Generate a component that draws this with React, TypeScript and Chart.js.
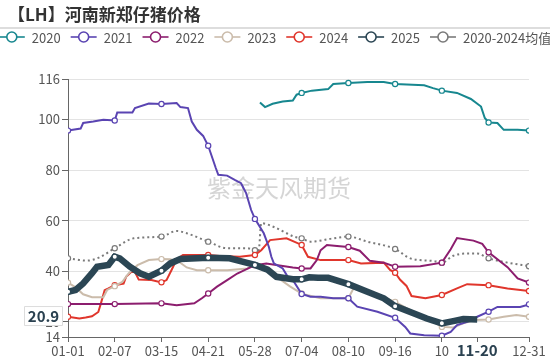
import { useEffect, useRef } from 'react';
import { Chart, registerables } from 'chart.js';

Chart.register(...registerables);

const FONT = '"Noto Sans CJK SC", "Noto Sans", sans-serif';
const TITLE = '【LH】河南新郑仔猪价格';
const WATERMARK = '紫金天风期货';
const latestLabel = '20.9';

const seriesNames = ['2020', '2021', '2022', '2023', '2024', '2025', '2020-2024均值'];
const seriesColors = ['#17878f', '#5a44b2', '#8c1d6e', '#cbbcab', '#e0362c', '#2b4654', '#7a7a7a'];

const xTickDays = [0, 37, 74, 111, 148, 185, 222, 259, 296, 324, 365];
const xTickLabels = ['01-01', '02-07', '03-15', '04-21', '05-28', '07-04', '08-10', '09-16', '10', '11-20', '12-31'];
const yTicks = [14, 20, 40, 60, 80, 100, 116];

// [day of year, price]
const s2020 = [[152,106.7],[156,104.9],[162,106.2],[170,107.1],[178,107.5],[181,109.8],[185,110.5],[193,111.4],[206,112.0],[210,114.0],[222,114.4],[237,114.8],[250,114.8],[259,114.0],[282,113.5],[289,112.4],[296,111.4],[308,110.5],[319,108.1],[327,105.1],[330,100.6],[333,98.8],[340,98.6],[345,95.9],[356,95.9],[365,95.6]];
const s2021 = [[0,95.6],[10,96.4],[12,98.6],[20,99.2],[28,99.9],[37,99.6],[39,102.8],[51,102.8],[53,104.5],[64,106.3],[74,106.1],[86,106.5],[89,104.9],[95,104.5],[98,99.2],[102,95.9],[107,93.5],[111,89.6],[117,80.8],[119,78.1],[126,77.8],[132,76.1],[137,74.8],[141,70.9],[145,64.2],[148,60.7],[155,55.0],[159,49.7],[161,45.7],[163,43.1],[170,41.1],[174,37.8],[179,35.8],[183,32.6],[185,31.0],[192,29.9],[200,29.9],[210,29.3],[222,29.3],[229,26.0],[245,24.0],[259,21.6],[267,18.0],[271,15.4],[282,14.7],[296,14.5],[303,16.0],[308,18.7],[316,20.0],[324,22.0],[333,24.0],[340,25.9],[358,25.9],[365,26.9]];
const s2022 = [[0,27.0],[37,27.0],[74,27.3],[86,26.6],[100,27.3],[106,29.3],[111,31.2],[118,33.9],[126,36.5],[134,39.1],[148,42.4],[157,43.1],[178,41.5],[185,41.1],[192,41.1],[197,44.4],[200,48.3],[205,50.4],[213,50.0],[222,49.6],[231,48.1],[239,44.1],[250,43.4],[259,41.8],[279,42.0],[296,43.4],[303,48.7],[308,53.1],[321,52.1],[328,50.8],[333,47.5],[348,41.6],[356,37.2],[365,35.5]];
const s2023 = [[0,35.5],[6,33.6],[12,30.9],[19,29.7],[28,29.7],[31,32.6],[37,34.1],[43,35.8],[48,39.1],[55,42.4],[64,44.4],[74,44.8],[81,44.7],[88,43.7],[94,41.5],[102,40.4],[111,40.4],[126,40.4],[142,41.1],[148,42.4],[157,41.1],[165,37.8],[176,33.9],[185,31.2],[189,30.6],[200,29.3],[210,29.3],[222,29.3],[226,33.2],[242,31.2],[259,27.9],[271,24.6],[273,24.0],[287,20.7],[296,18.0],[305,17.8],[313,19.4],[322,20.7],[333,20.9],[345,22.0],[355,22.7],[365,22.0]];
const s2024 = [[0,22.0],[9,21.3],[14,21.7],[19,22.2],[24,23.9],[26,27.2],[29,32.5],[32,33.2],[37,34.5],[44,35.1],[46,37.8],[50,39.7],[53,39.7],[56,36.7],[66,36.5],[74,35.6],[78,36.5],[82,40.5],[86,44.7],[91,46.4],[100,46.4],[111,46.4],[120,46.0],[136,45.7],[148,46.4],[153,48.3],[160,52.3],[173,53.0],[185,50.4],[190,45.7],[200,44.4],[222,44.4],[232,43.1],[250,43.4],[255,40.5],[259,39.4],[263,36.6],[268,34.2],[272,30.2],[283,29.3],[290,30.0],[296,30.6],[308,33.2],[316,34.9],[333,34.5],[348,33.2],[365,32.2]];
const s2025 = [[0,31.9],[6,32.6],[12,35.2],[19,39.2],[23,41.8],[32,42.5],[37,45.7],[41,45.1],[49,41.8],[57,39.2],[64,37.8],[74,40.2],[81,43.1],[89,44.8],[111,45.3],[128,45.1],[138,43.8],[148,42.5],[158,40.6],[165,37.8],[178,36.8],[185,36.8],[191,37.6],[198,37.4],[206,37.4],[222,34.9],[237,31.9],[250,29.3],[259,26.2],[274,23.3],[284,21.3],[296,19.4],[305,20.3],[313,21.1],[324,20.9]];
const sAvg = [[0,45.1],[15,44.2],[25,45.5],[37,49.1],[52,53.0],[74,53.7],[86,55.9],[94,55.0],[111,51.7],[126,49.1],[142,49.1],[148,48.3],[151,48.3],[153,59.0],[163,57.5],[179,53.7],[185,53.0],[192,51.7],[210,53.0],[222,53.7],[237,51.7],[259,48.8],[271,45.1],[290,44.0],[296,43.4],[305,46.1],[316,47.0],[324,47.0],[333,45.1],[348,43.4],[365,42.0]];

const allSeries = [s2020, s2021, s2022, s2023, s2024, s2025, sAvg];

const decorPlugin = {
  id: 'decor',
  beforeDraw(chart: any) {
    const ctx = chart.ctx;
    ctx.save();
    ctx.fillStyle = '#ffffff';
    ctx.fillRect(0, 0, chart.width, chart.height);
    // title
    ctx.font = 'bold 17px ' + FONT;
    ctx.fillStyle = '#333333';
    ctx.textBaseline = 'middle';
    ctx.textAlign = 'left';
    ctx.fillText(TITLE, 8, 15);
    // separator
    ctx.fillStyle = '#dddddd';
    ctx.fillRect(0, 27, chart.width, 2);
    // legend
    ctx.font = '13px ' + FONT;
    const iconW = 26, iconGap = 7, itemGap = 10;
    const widths = seriesNames.map((n) => ctx.measureText(n).width);
    const total = widths.reduce((a, w) => a + iconW + iconGap + w, 0) + itemGap * (seriesNames.length - 1);
    let x = (chart.width - total) / 2;
    const y = 37;
    seriesNames.forEach((n, i) => {
      ctx.strokeStyle = seriesColors[i];
      ctx.lineWidth = 1.6;
      ctx.beginPath();
      ctx.moveTo(x, y);
      ctx.lineTo(x + iconW, y);
      ctx.stroke();
      ctx.beginPath();
      ctx.arc(x + iconW / 2, y, 5, 0, Math.PI * 2);
      ctx.fillStyle = '#ffffff';
      ctx.fill();
      ctx.stroke();
      ctx.fillStyle = '#555555';
      ctx.fillText(n, x + iconW + iconGap, y + 1);
      x += iconW + iconGap + widths[i] + itemGap;
    });
    ctx.restore();
  },
  beforeDatasetsDraw(chart: any) {
    const ctx = chart.ctx;
    ctx.save();
    ctx.font = '24px ' + FONT;
    ctx.fillStyle = 'rgba(185,185,185,0.6)';
    ctx.textAlign = 'center';
    ctx.textBaseline = 'middle';
    ctx.fillText(WATERMARK, 279, 188);
    ctx.restore();
  },
  afterDraw(chart: any) {
    const ctx = chart.ctx;
    const yScale = chart.scales.y;
    const last = s2025[s2025.length - 1][1];
    const cy = yScale.getPixelForValue(last) - 4;
    const right = chart.chartArea.left - 6;
    const w = 38, h = 19;
    ctx.save();
    ctx.fillStyle = '#ffffff';
    ctx.strokeStyle = '#dcdcdc';
    ctx.lineWidth = 1;
    ctx.beginPath();
    ctx.rect(right - w + 0.5, cy - h / 2 + 0.5, w, h);
    ctx.fill();
    ctx.stroke();
    ctx.font = 'bold 15px ' + FONT;
    ctx.fillStyle = '#2a4150';
    ctx.textAlign = 'center';
    ctx.textBaseline = 'middle';
    ctx.fillText(latestLabel, right - w / 2 + 0.5, cy + 1);
    ctx.restore();
  },
};

export default function App() {
  const ref = useRef<HTMLCanvasElement | null>(null);
  useEffect(() => {
    if (!ref.current) return;
    const datasets = allSeries.map((s, i) => {
      const isAvg = i === 6;
      const is2025 = i === 5;
      return {
        label: seriesNames[i],
        data: s.map(([x, y]) => ({ x, y })),
        borderColor: seriesColors[i],
        backgroundColor: seriesColors[i],
        borderWidth: is2025 ? 6.5 : 2,
        borderDash: isAvg ? [2, 3] : [],
        tension: 0,
        cubicInterpolationMode: isAvg ? 'monotone' : 'default',
        order: is2025 ? -1 : i,
        pointRadius: (c: any) => {
          const d = c.raw ? c.raw.x : -1;
          return d % 37 === 0 || d === 365 ? 2.6 : 0;
        },
        pointBackgroundColor: '#ffffff',
        pointBorderColor: seriesColors[i],
        pointBorderWidth: 1.2,
        fill: false,
      };
    });
    const chart = new Chart(ref.current, {
      type: 'line',
      data: { datasets } as any,
      plugins: [decorPlugin],
      options: {
        animation: false,
        responsive: false,
        events: [],
        layout: { padding: { left: 0, right: 21, top: 79, bottom: 0 } },
        plugins: { legend: { display: false }, title: { display: false }, tooltip: { enabled: false } },
        scales: {
          x: {
            type: 'linear',
            min: 0,
            max: 365,
            afterBuildTicks: (s: any) => {
              s.ticks = xTickDays.map((v) => ({ value: v }));
            },
            afterFit: (s: any) => {
              s.height = 22;
            },
            grid: { drawOnChartArea: false, drawTicks: true, tickLength: 5, tickColor: '#666666' },
            border: { color: '#666666', width: 1 },
            ticks: {
              autoSkip: false,
              maxRotation: 0,
              padding: 1,
              callback: (_v: any, idx: number) => xTickLabels[idx],
              font: (c: any) => (c.index === 9 ? { size: 15, weight: 'bold', family: FONT, lineHeight: 1.0 } : { size: 13, family: FONT }),
              color: (c: any) => (c.index === 9 ? '#2a4150' : '#555555'),
            },
          },
          y: {
            type: 'linear',
            min: 14,
            max: 116,
            afterBuildTicks: (s: any) => {
              s.ticks = yTicks.map((v) => ({ value: v }));
            },
            afterFit: (s: any) => {
              s.width = 68;
            },
            grid: { color: '#e3e3e3', lineWidth: 1, drawTicks: true, tickLength: 6, tickColor: '#666666' },
            border: { color: '#666666', width: 1 },
            ticks: {
              padding: 2,
              callback: (v: any) => String(v),
              font: { size: 13, family: FONT },
              color: '#555555',
            },
          },
        },
      } as any,
    });
    return () => chart.destroy();
  }, []);
  return (
    <div style={{ position: 'absolute', left: 0, top: 0, width: 550, height: 359, background: '#fff' }}>
      <canvas ref={ref} width={550} height={359} />
    </div>
  );
}
